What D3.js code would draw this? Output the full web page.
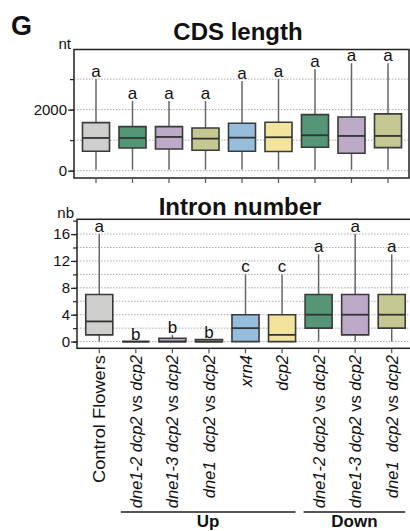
<!DOCTYPE html>
<html>
<head>
<meta charset="utf-8">
<script src="https://cdn.jsdelivr.net/npm/d3@7"></script>
<style>
  body { margin: 0; background: #fff; }
  svg text { font-family: "Liberation Sans", Arial, Helvetica, sans-serif; fill: #111; }
</style>
</head>
<body>
<div id="chart"></div>
<script>
// categories and their label pieces (text, italic?)
var categories = ["ctrl", "dne12", "dne13", "dne1", "xrn4", "dcp2", "dne12d", "dne13d", "dne1d"];
var labelParts = [
  [["Control Flowers", false]],
  [["dne1-2", true], [" dcp2", true], [" vs ", false], ["dcp2", true]],
  [["dne1-3", true], [" dcp2", true], [" vs ", false], ["dcp2", true]],
  [["dne1", true], ["  dcp2", true], [" vs ", false], ["dcp2", true]],
  [["xrn4", true]],
  [["dcp2", true]],
  [["dne1-2", true], [" dcp2", true], [" vs ", false], ["dcp2", true]],
  [["dne1-3", true], [" dcp2", true], [" vs ", false], ["dcp2", true]],
  [["dne1", true], ["  dcp2", true], [" vs ", false], ["dcp2", true]]
];
var boxColors = ["#cfd0ce", "#559676", "#bcaac8", "#c6c894", "#96bedc", "#f3e39d", "#559676", "#bcaac8", "#c6c894"];

// CDS length (nt)
var cdsLow = [30, 30, 30, 30, 30, 30, 30, 30, 30];
var cdsQ1 = [636, 744, 711, 669, 636, 626, 767, 570, 754];
var cdsMed = [1072, 1072, 1105, 1050, 1082, 1095, 1160, 1138, 1138];
var cdsQ3 = [1574, 1443, 1443, 1400, 1554, 1587, 1836, 1760, 1860];
var cdsHigh = [3000, 2285, 2285, 2285, 2940, 3000, 3325, 3520, 3520];
var cdsLetters = ["a", "a", "a", "a", "a", "a", "a", "a", "a"];
var cdsTicks = [0, 1000, 2000, 3000];
var cdsLabeled = [0, 2000];

// Intron number (nb)
var intronLow = [0, 0, 0, 0, 0, 0, 0, 0, 0];
var intronQ1 = [1, 0, 0, 0, 0, 0, 2, 1, 2];
var intronMed = [3, 0, 0, 0, 2, 1, 4, 4, 4];
var intronQ3 = [7, 0, 0.5, 0.3, 4, 4, 7, 7, 7];
var intronHigh = [16, 0, 1, 0.3, 10, 10, 13, 16, 13];
var intronLetters = ["a", "b", "b", "b", "c", "c", "a", "a", "a"];
var intronTicks = [0, 2, 4, 6, 8, 10, 12, 14, 16, 18];
var intronLabeled = [0, 4, 8, 12, 16];

var groupNames = ["Up", "Down"];
var groupFrom = [1, 6];
var groupTo = [5, 8];

var svgWidth = 410;
var svgHeight = 531;

var svg = d3.select("#chart")
  .append("svg")
  .attr("width", svgWidth)
  .attr("height", svgHeight);

// panel letter
svg.append("text")
  .attr("x", 11)
  .attr("y", 35)
  .attr("font-size", 27)
  .attr("font-weight", "bold")
  .text("G");

function drawPanel(opt) {
  var x = d3.scaleBand()
    .domain(categories)
    .range([opt.bandLeft, opt.bandRight])
    .paddingInner(0.26)
    .paddingOuter(0.13);

  var y = d3.scaleLinear()
    .domain(opt.domain)
    .range([opt.bottom, opt.top]);

  var g = svg.append("g");

  // title
  g.append("text")
    .attr("x", opt.titleX)
    .attr("y", opt.titleY)
    .attr("text-anchor", "middle")
    .attr("font-size", 24)
    .attr("font-weight", "bold")
    .text(opt.title);

  // unit
  g.append("text")
    .attr("x", opt.left - 3)
    .attr("y", opt.top - 1)
    .attr("text-anchor", "end")
    .attr("font-size", 15)
    .text(opt.unit);

  // dotted grid
  g.selectAll(".grid")
    .data(opt.ticks.filter(d => y(d) > opt.top + 2))
    .enter()
    .append("line")
    .attr("x1", opt.left)
    .attr("x2", opt.right)
    .attr("y1", d => y(d))
    .attr("y2", d => y(d))
    .attr("stroke", "#aaa")
    .attr("stroke-width", 1)
    .attr("stroke-dasharray", "1.5,1.5");

  // minor ticks
  var minor = g.append("g")
    .attr("transform", `translate(${opt.left}, 0)`)
    .call(d3.axisLeft(y).tickValues(opt.ticks).tickSize(4).tickFormat(""));
  minor.select(".domain").remove();
  minor.selectAll("line").attr("stroke", "#222").attr("stroke-width", 1.2);

  // major ticks with labels
  var major = g.append("g")
    .attr("transform", `translate(${opt.left}, 0)`)
    .call(d3.axisLeft(y).tickValues(opt.labeled).tickSize(6).tickPadding(1).tickFormat(d3.format("d")));
  major.select(".domain").remove();
  major.selectAll("line").attr("stroke", "#222").attr("stroke-width", 1.2);
  major.selectAll("text")
    .attr("font-size", 15)
    .attr("fill", "#111")
    .style("font-family", "'Liberation Sans', Arial, sans-serif");

  // frame
  g.append("rect")
    .attr("x", opt.left)
    .attr("y", opt.top)
    .attr("width", opt.frameRight - opt.left)
    .attr("height", opt.bottom - opt.top)
    .attr("fill", "none")
    .attr("stroke", "#222")
    .attr("stroke-width", 1.5);

  // category ticks on bottom
  var xAxis = g.append("g")
    .attr("transform", `translate(0, ${opt.bottom})`)
    .call(d3.axisBottom(x).tickSize(5).tickFormat(""));
  xAxis.select(".domain").remove();
  xAxis.selectAll("line").attr("stroke", "#555").attr("stroke-width", 1.2);

  var bw = x.bandwidth();

  var boxes = g.selectAll(".box")
    .data(categories)
    .enter()
    .append("g")
    .attr("class", "box");

  // whiskers
  boxes.append("line")
    .attr("x1", d => x(d) + bw / 2)
    .attr("x2", d => x(d) + bw / 2)
    .attr("y1", (d, i) => y(opt.high[i]))
    .attr("y2", (d, i) => y(opt.q3[i]))
    .attr("stroke", "#666")
    .attr("stroke-width", 1.5);

  boxes.append("line")
    .attr("x1", d => x(d) + bw / 2)
    .attr("x2", d => x(d) + bw / 2)
    .attr("y1", (d, i) => y(opt.q1[i]))
    .attr("y2", (d, i) => y(opt.low[i]))
    .attr("stroke", "#666")
    .attr("stroke-width", 1.5);

  // box body (path so that a flat box still shows)
  boxes.append("path")
    .attr("d", function(d, i) {
      var x0 = x(d), y3 = y(opt.q3[i]), y1 = y(opt.q1[i]);
      return `M${x0},${y3}H${x0 + bw}V${y1}H${x0}Z`;
    })
    .attr("fill", (d, i) => boxColors[i])
    .attr("stroke", "#3a3a3a")
    .attr("stroke-width", 1.6);

  // median
  boxes.append("line")
    .attr("x1", d => x(d))
    .attr("x2", d => x(d) + bw)
    .attr("y1", (d, i) => y(opt.med[i]))
    .attr("y2", (d, i) => y(opt.med[i]))
    .attr("stroke", "#333")
    .attr("stroke-width", 1.8);

  // significance letters
  boxes.append("text")
    .attr("x", d => x(d) + bw / 2)
    .attr("y", (d, i) => y(opt.high[i]) - 2)
    .attr("text-anchor", "middle")
    .attr("font-size", 17)
    .text((d, i) => opt.letters[i]);

  return x;
}

drawPanel({
  title: "CDS length", titleX: 238, titleY: 40, unit: "nt",
  left: 74, right: 409, frameRight: 409, top: 49.5, bottom: 178,
  bandLeft: 77.75, bandRight: 406.25,
  domain: [-240, 3970],
  ticks: cdsTicks, labeled: cdsLabeled,
  low: cdsLow, q1: cdsQ1, med: cdsMed, q3: cdsQ3, high: cdsHigh, letters: cdsLetters
});

var xb = drawPanel({
  title: "Intron number", titleX: 240, titleY: 215, unit: "nb",
  left: 77, right: 412, frameRight: 414, top: 219.3, bottom: 348.3,
  bandLeft: 81, bandRight: 410,
  domain: [-1, 18.2],
  ticks: intronTicks, labeled: intronLabeled,
  low: intronLow, q1: intronQ1, med: intronMed, q3: intronQ3, high: intronHigh, letters: intronLetters
});

// rotated category labels
var bwb = xb.bandwidth();
var labels = svg.selectAll(".xlabel")
  .data(categories)
  .enter()
  .append("text")
  .attr("class", "xlabel")
  .attr("text-anchor", "end")
  .attr("font-size", 16.5)
  .attr("xml:space", "preserve")
  .attr("transform", d => `translate(${xb(d) + bwb / 2 + 6}, 355) rotate(-90)`);

labels.each(function(d, i) {
  var t = d3.select(this);
  labelParts[i].forEach(function(p) {
    t.append("tspan")
      .attr("font-style", p[1] ? "italic" : "normal")
      .style("white-space", "pre")
      .text(p[0]);
  });
});

// the control label is drawn wider in the original figure
labels.filter((d, i) => i === 0)
  .attr("textLength", 128)
  .attr("lengthAdjust", "spacingAndGlyphs");

// Up / Down groups
groupNames.forEach(function(name, k) {
  var x0 = xb(categories[groupFrom[k]]) - 1.5;
  var x1 = xb(categories[groupTo[k]]) + bwb;
  svg.append("line")
    .attr("x1", x0)
    .attr("x2", x1)
    .attr("y1", 512)
    .attr("y2", 512)
    .attr("stroke", "#555")
    .attr("stroke-width", 2);
  svg.append("text")
    .attr("x", (x0 + x1) / 2)
    .attr("y", 527)
    .attr("text-anchor", "middle")
    .attr("font-size", 17)
    .attr("font-weight", "bold")
    .text(name);
});
</script>
</body>
</html>
